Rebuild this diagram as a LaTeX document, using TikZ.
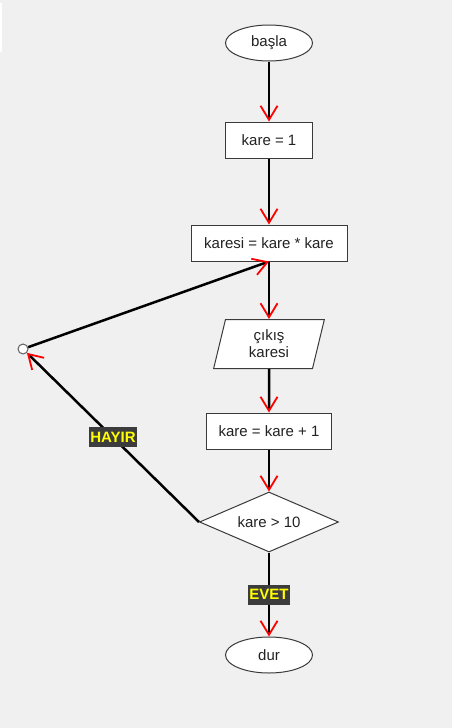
\documentclass[tikz,border=0pt]{standalone}
\usepackage{fontspec}
\setmainfont{Liberation Sans}
\usetikzlibrary{shapes.geometric,arrows.meta}
\definecolor{bg}{HTML}{F0F0F0}
\definecolor{edge}{HTML}{3A3A3A}
\definecolor{lbl}{HTML}{3C3C3C}
\definecolor{txt}{HTML}{222222}
\definecolor{tagtext}{HTML}{FFFF00}
\begin{document}
\begin{tikzpicture}[x=1pt,y=-1pt,
  every node/.style={font=\fontsize{15}{17}\selectfont, text=txt},
  shapeline/.style={draw=edge, line width=1pt, fill=white},
  term/.style={ellipse, shapeline, minimum width=87pt, minimum height=36pt, inner sep=0pt},
  proc/.style={rectangle, shapeline, minimum height=36pt, inner sep=0pt},
  io/.style={trapezium, trapezium left angle=79, trapezium right angle=101, trapezium stretches=true, shapeline, minimum width=111pt, minimum height=49pt, inner sep=0pt, align=center},
  dec/.style={diamond, aspect=2.3, shapeline, minimum width=139pt, minimum height=60pt, inner sep=0pt},
  joint/.style={circle, draw=edge!80, line width=1pt, fill=white, minimum size=10pt, inner sep=0pt},
  flow/.style={draw=black, line width=2.5pt, -{Straight Barb[color=red, length=14pt, width=17pt, line width=1.8pt]}},
  tag/.style={fill=lbl, text=tagtext, font=\bfseries\fontsize{15}{17}\selectfont, inner xsep=1.5pt, inner ysep=0pt, minimum height=20pt},
]
\path[fill=bg] (0,0) rectangle (452,728);
\fill[white] (0,3) rectangle (1.5,52);

\node[term] (start) at (269,43) {başla};
\node[proc, minimum width=87pt] (init) at (269,140) {kare = 1};
\node[proc, minimum width=156pt] (calc) at (269,243) {karesi = kare * kare};
\node[io] (out) at (269,344) {çıkış\\karesi};
\node[proc, minimum width=125pt] (inc) at (269,431) {kare = kare + 1};
\node[dec] (cond) at (269,522) {kare > 10};
\node[term] (stop) at (269,655) {dur};
\node[joint] (join) at (23,349) {};

\draw[flow] (start) -- (init);
\draw[flow] (init) -- (calc);
\draw[flow] (calc) -- (out);
\draw[flow] (out) -- (inc);
\draw[flow] (inc) -- (cond);
\draw[flow] (cond) -- node[tag] {EVET} (stop);
\draw[flow] (cond.west) -- node[tag] {HAYIR} (join);
\draw[flow] (join) -- (calc.south);
\end{tikzpicture}
\end{document}
